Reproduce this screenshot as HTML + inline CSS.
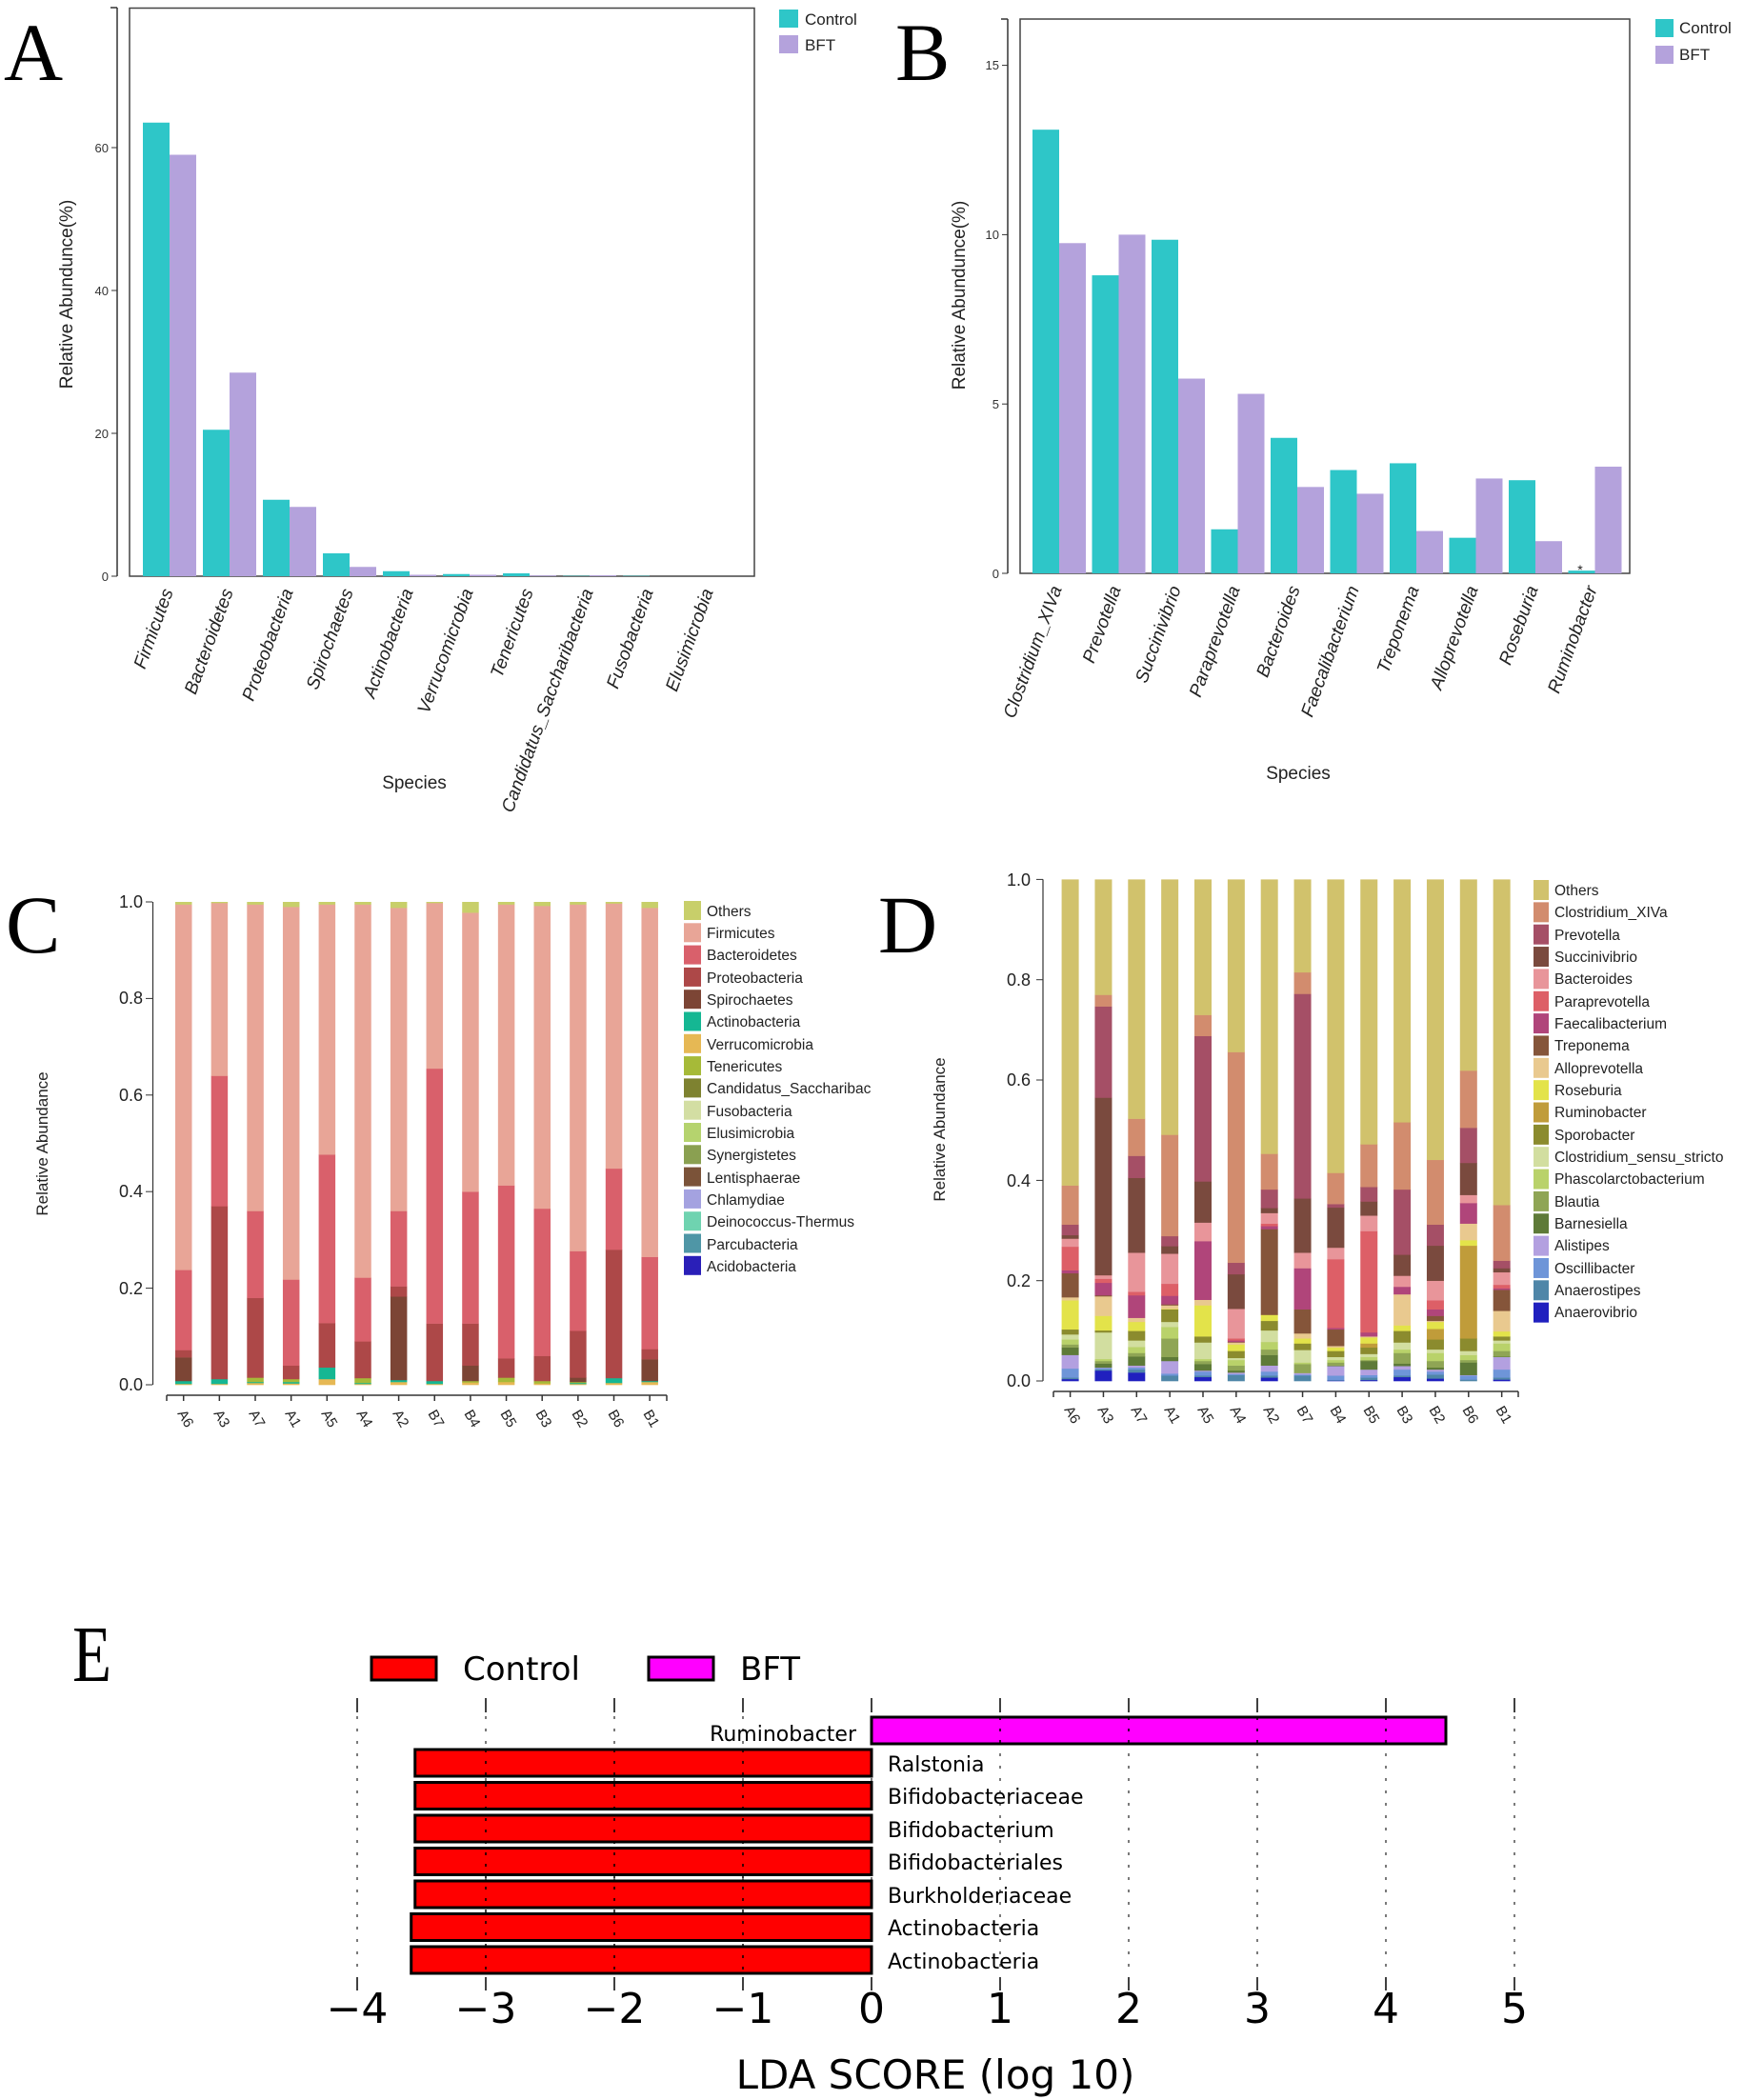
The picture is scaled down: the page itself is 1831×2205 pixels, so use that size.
<!DOCTYPE html>
<html><head><meta charset="utf-8">
<style>
html,body{margin:0;padding:0;background:#fff;}
svg{display:block;}
.s{font-family:"Liberation Sans",Arial,sans-serif;}
.serif{font-family:"Liberation Serif",serif;}
.dv{font-family:"DejaVu Sans","Liberation Sans",sans-serif;}
</style></head>
<body>
<svg id="svg" width="1831" height="2205" viewBox="0 0 1831 2205" xmlns="http://www.w3.org/2000/svg">
<rect width="1831" height="2205" fill="#fff"/>

<!-- ===== Panel A ===== -->
<text class="serif" x="4" y="84" font-size="86">A</text>
<line x1="123" y1="8" x2="123" y2="605" stroke="#333" stroke-width="1.5"/>
<line x1="116" y1="8" x2="123" y2="8" stroke="#333" stroke-width="1.5"/>
<rect x="136" y="8.5" width="656" height="596.5" fill="none" stroke="#444" stroke-width="1.5"/>
<g class="s" font-size="13" fill="#333" text-anchor="end">
<line x1="117" y1="605" x2="123" y2="605" stroke="#333"/><text x="114" y="610">0</text>
<line x1="117" y1="455" x2="123" y2="455" stroke="#333"/><text x="114" y="460">20</text>
<line x1="117" y1="305" x2="123" y2="305" stroke="#333"/><text x="114" y="310">40</text>
<line x1="117" y1="155" x2="123" y2="155" stroke="#333"/><text x="114" y="160">60</text>
</g>
<g id="barsA"></g>
<text class="s" font-size="19" fill="#222" transform="translate(76,309) rotate(-90)" text-anchor="middle">Relative Abundunce(%)</text>
<text class="s" font-size="19" fill="#222" x="435" y="828" text-anchor="middle">Species</text>
<g class="s" font-size="19" font-style="italic" fill="#222" text-anchor="end">
<text transform="translate(182,621) rotate(-70)">Firmicutes</text>
<text transform="translate(245,621) rotate(-70)">Bacteroidetes</text>
<text transform="translate(308,621) rotate(-70)">Proteobacteria</text>
<text transform="translate(371,621) rotate(-70)">Spirochaetes</text>
<text transform="translate(434,621) rotate(-70)">Actinobacteria</text>
<text transform="translate(497,621) rotate(-70)">Verrucomicrobia</text>
<text transform="translate(560,621) rotate(-70)">Tenericutes</text>
<text transform="translate(623,621) rotate(-70)">Candidatus_Saccharibacteria</text>
<text transform="translate(686,621) rotate(-70)">Fusobacteria</text>
<text transform="translate(749,621) rotate(-70)">Elusimicrobia</text>
</g>
<rect x="818" y="10" width="20" height="19" fill="#2ec6c8"/>
<rect x="818" y="37" width="20" height="19" fill="#b4a2dc"/>
<g class="s" font-size="17" fill="#222"><text x="845" y="26">Control</text><text x="845" y="53">BFT</text></g>

<!-- ===== Panel B ===== -->
<text class="serif" x="940" y="84" font-size="86">B</text>
<line x1="1058" y1="20" x2="1058" y2="602" stroke="#333" stroke-width="1.5"/>
<line x1="1051" y1="20" x2="1058" y2="20" stroke="#333" stroke-width="1.5"/>
<rect x="1071" y="20" width="640" height="582" fill="none" stroke="#444" stroke-width="1.5"/>
<g class="s" font-size="13" fill="#333" text-anchor="end">
<line x1="1052" y1="602" x2="1058" y2="602" stroke="#333"/><text x="1049" y="607">0</text>
<line x1="1052" y1="424.2" x2="1058" y2="424.2" stroke="#333"/><text x="1049" y="429">5</text>
<line x1="1052" y1="246.4" x2="1058" y2="246.4" stroke="#333"/><text x="1049" y="251">10</text>
<line x1="1052" y1="68.6" x2="1058" y2="68.6" stroke="#333"/><text x="1049" y="73">15</text>
</g>
<g id="barsB"></g>
<text class="s" font-size="14" fill="#222" x="1659" y="603" text-anchor="middle">*</text>
<text class="s" font-size="19" fill="#222" transform="translate(1013,310) rotate(-90)" text-anchor="middle">Relative Abundunce(%)</text>
<text class="s" font-size="19" fill="#222" x="1363" y="818" text-anchor="middle">Species</text>
<g class="s" font-size="19" font-style="italic" fill="#222" text-anchor="end">
<text transform="translate(1115,618) rotate(-70)">Clostridium_XIVa</text>
<text transform="translate(1177,618) rotate(-70)">Prevotella</text>
<text transform="translate(1240,618) rotate(-70)">Succinivibrio</text>
<text transform="translate(1302,618) rotate(-70)">Paraprevotella</text>
<text transform="translate(1365,618) rotate(-70)">Bacteroides</text>
<text transform="translate(1427,618) rotate(-70)">Faecalibacterium</text>
<text transform="translate(1490,618) rotate(-70)">Treponema</text>
<text transform="translate(1552,618) rotate(-70)">Alloprevotella</text>
<text transform="translate(1615,618) rotate(-70)">Roseburia</text>
<text transform="translate(1677,618) rotate(-70)">Ruminobacter</text>
</g>
<rect x="1738" y="20" width="19" height="19" fill="#2ec6c8"/>
<rect x="1738" y="48" width="19" height="19" fill="#b4a2dc"/>
<g class="s" font-size="17" fill="#222"><text x="1763" y="35">Control</text><text x="1763" y="63">BFT</text></g>

<!-- ===== Panel C ===== -->
<text class="serif" x="6" y="1000" font-size="86">C</text>
<line x1="160.5" y1="947" x2="160.5" y2="1454" stroke="#333" stroke-width="1.2"/>
<g class="s" font-size="18" fill="#222" text-anchor="end">
<line x1="153" y1="947" x2="160" y2="947" stroke="#333"/><text x="150" y="953">1.0</text>
<line x1="153" y1="1048.4" x2="160" y2="1048.4" stroke="#333"/><text x="150" y="1054">0.8</text>
<line x1="153" y1="1149.8" x2="160" y2="1149.8" stroke="#333"/><text x="150" y="1156">0.6</text>
<line x1="153" y1="1251.2" x2="160" y2="1251.2" stroke="#333"/><text x="150" y="1257">0.4</text>
<line x1="153" y1="1352.6" x2="160" y2="1352.6" stroke="#333"/><text x="150" y="1359">0.2</text>
<line x1="153" y1="1454" x2="160" y2="1454" stroke="#333"/><text x="150" y="1460">0.0</text>
</g>
<g id="barsC"></g>
<line x1="175" y1="1465" x2="700" y2="1465" stroke="#333" stroke-width="1.5"/>
<g id="ticksC"></g>
<text class="s" font-size="17" fill="#222" transform="translate(50,1201) rotate(-90)" text-anchor="middle">Relative Abundance</text>
<g class="s" font-size="15" fill="#222">
<text transform="translate(186,1484) rotate(60)">A6</text>
<text transform="translate(224,1484) rotate(60)">A3</text>
<text transform="translate(261,1484) rotate(60)">A7</text>
<text transform="translate(299,1484) rotate(60)">A1</text>
<text transform="translate(337,1484) rotate(60)">A5</text>
<text transform="translate(374,1484) rotate(60)">A4</text>
<text transform="translate(412,1484) rotate(60)">A2</text>
<text transform="translate(449,1484) rotate(60)">B7</text>
<text transform="translate(487,1484) rotate(60)">B4</text>
<text transform="translate(525,1484) rotate(60)">B5</text>
<text transform="translate(562,1484) rotate(60)">B3</text>
<text transform="translate(600,1484) rotate(60)">B2</text>
<text transform="translate(638,1484) rotate(60)">B6</text>
<text transform="translate(675,1484) rotate(60)">B1</text>
</g>
<g id="legC"></g>
<g class="s" font-size="15.5" fill="#222">
<text x="742" y="962">Others</text>
<text x="742" y="985">Firmicutes</text>
<text x="742" y="1008">Bacteroidetes</text>
<text x="742" y="1032">Proteobacteria</text>
<text x="742" y="1055">Spirochaetes</text>
<text x="742" y="1078">Actinobacteria</text>
<text x="742" y="1102">Verrucomicrobia</text>
<text x="742" y="1125">Tenericutes</text>
<text x="742" y="1148">Candidatus_Saccharibac</text>
<text x="742" y="1172">Fusobacteria</text>
<text x="742" y="1195">Elusimicrobia</text>
<text x="742" y="1218">Synergistetes</text>
<text x="742" y="1242">Lentisphaerae</text>
<text x="742" y="1265">Chlamydiae</text>
<text x="742" y="1288">Deinococcus-Thermus</text>
<text x="742" y="1312">Parcubacteria</text>
<text x="742" y="1335">Acidobacteria</text>
</g>

<!-- ===== Panel D ===== -->
<text class="serif" x="922" y="1000" font-size="86">D</text>
<line x1="1095" y1="923.4" x2="1095" y2="1450" stroke="#333" stroke-width="1.2"/>
<g class="s" font-size="18" fill="#222" text-anchor="end">
<line x1="1088" y1="923.4" x2="1095" y2="923.4" stroke="#333"/><text x="1082" y="930">1.0</text>
<line x1="1088" y1="1028.7" x2="1095" y2="1028.7" stroke="#333"/><text x="1082" y="1035">0.8</text>
<line x1="1088" y1="1134" x2="1095" y2="1134" stroke="#333"/><text x="1082" y="1140">0.6</text>
<line x1="1088" y1="1239.4" x2="1095" y2="1239.4" stroke="#333"/><text x="1082" y="1246">0.4</text>
<line x1="1088" y1="1344.7" x2="1095" y2="1344.7" stroke="#333"/><text x="1082" y="1351">0.2</text>
<line x1="1088" y1="1450" x2="1095" y2="1450" stroke="#333"/><text x="1082" y="1456">0.0</text>
</g>
<g id="barsD"></g>
<line x1="1106" y1="1461" x2="1594" y2="1461" stroke="#333" stroke-width="1.5"/>
<g id="ticksD"></g>
<text class="s" font-size="17" fill="#222" transform="translate(992,1186) rotate(-90)" text-anchor="middle">Relative Abundance</text>
<g class="s" font-size="15" fill="#222">
<text transform="translate(1117,1480) rotate(60)">A6</text>
<text transform="translate(1152,1480) rotate(60)">A3</text>
<text transform="translate(1187,1480) rotate(60)">A7</text>
<text transform="translate(1222,1480) rotate(60)">A1</text>
<text transform="translate(1257,1480) rotate(60)">A5</text>
<text transform="translate(1291,1480) rotate(60)">A4</text>
<text transform="translate(1326,1480) rotate(60)">A2</text>
<text transform="translate(1361,1480) rotate(60)">B7</text>
<text transform="translate(1396,1480) rotate(60)">B4</text>
<text transform="translate(1431,1480) rotate(60)">B5</text>
<text transform="translate(1466,1480) rotate(60)">B3</text>
<text transform="translate(1500,1480) rotate(60)">B2</text>
<text transform="translate(1535,1480) rotate(60)">B6</text>
<text transform="translate(1570,1480) rotate(60)">B1</text>
</g>
<g id="legD"></g>
<g class="s" font-size="15.5" fill="#222">
<text x="1632" y="940">Others</text>
<text x="1632" y="963">Clostridium_XIVa</text>
<text x="1632" y="987">Prevotella</text>
<text x="1632" y="1010">Succinivibrio</text>
<text x="1632" y="1033">Bacteroides</text>
<text x="1632" y="1057">Paraprevotella</text>
<text x="1632" y="1080">Faecalibacterium</text>
<text x="1632" y="1103">Treponema</text>
<text x="1632" y="1127">Alloprevotella</text>
<text x="1632" y="1150">Roseburia</text>
<text x="1632" y="1173">Ruminobacter</text>
<text x="1632" y="1197">Sporobacter</text>
<text x="1632" y="1220">Clostridium_sensu_stricto</text>
<text x="1632" y="1243">Phascolarctobacterium</text>
<text x="1632" y="1267">Blautia</text>
<text x="1632" y="1290">Barnesiella</text>
<text x="1632" y="1313">Alistipes</text>
<text x="1632" y="1337">Oscillibacter</text>
<text x="1632" y="1360">Anaerostipes</text>
<text x="1632" y="1383">Anaerovibrio</text>
</g>

<!-- ===== Panel E ===== -->
<text class="serif" x="76" y="1765" font-size="84" transform="translate(76,0) scale(0.8,1) translate(-76,0)">E</text>
<rect x="390" y="1740" width="68" height="24" fill="#ff0000" stroke="#000" stroke-width="3"/>
<rect x="681" y="1740" width="68" height="24" fill="#ff00ff" stroke="#000" stroke-width="3"/>
<g class="dv" font-size="34" fill="#000"><text x="486" y="1764">Control</text><text x="777" y="1764">BFT</text></g>
<g id="gridE"></g>
<g id="barsE"></g>
<g class="dv" font-size="22" fill="#000">
<text x="899" y="1828" text-anchor="end" font-size="22">Ruminobacter</text>
<text x="932" y="1860">Ralstonia</text>
<text x="932" y="1894">Bifidobacteriaceae</text>
<text x="932" y="1929">Bifidobacterium</text>
<text x="932" y="1963">Bifidobacteriales</text>
<text x="932" y="1998">Burkholderiaceae</text>
<text x="932" y="2032">Actinobacteria</text>
<text x="932" y="2067">Actinobacteria</text>
</g>
<g class="dv" font-size="44" fill="#000" text-anchor="middle">
<text x="375" y="2124">−4</text><text x="510" y="2124">−3</text><text x="645" y="2124">−2</text><text x="780" y="2124">−1</text>
<text x="915" y="2124">0</text><text x="1050" y="2124">1</text><text x="1185" y="2124">2</text><text x="1320" y="2124">3</text><text x="1455" y="2124">4</text><text x="1590" y="2124">5</text>
</g>
<text class="dv" font-size="42" x="982" y="2193" text-anchor="middle">LDA SCORE (log 10)</text>
</svg>
<script>
(function(){
var NS="http://www.w3.org/2000/svg";
function R(g,x,y,w,h,f,extra){var r=document.createElementNS(NS,"rect");r.setAttribute("x",x);r.setAttribute("y",y);r.setAttribute("width",w);r.setAttribute("height",Math.max(h,0));r.setAttribute("fill",f);if(extra)for(var k in extra)r.setAttribute(k,extra[k]);g.appendChild(r);}
function L(g,x1,y1,x2,y2,s,w,d){var l=document.createElementNS(NS,"line");l.setAttribute("x1",x1);l.setAttribute("y1",y1);l.setAttribute("x2",x2);l.setAttribute("y2",y2);l.setAttribute("stroke",s);l.setAttribute("stroke-width",w);if(d)l.setAttribute("stroke-dasharray",d);g.appendChild(l);}
var TEAL="#2ec6c8",LAV="#b4a2dc";
var gA=document.getElementById("barsA");
var aC=[63.5,20.5,10.7,3.2,0.7,0.3,0.4,0.05,0.05,0],aB=[59,28.5,9.7,1.3,0.2,0.2,0.1,0.12,0,0];
for(var i=0;i<10;i++){var x=150+63*i;R(gA,x,605-aC[i]*7.5,28,aC[i]*7.5,TEAL);R(gA,x+28,605-aB[i]*7.5,28,aB[i]*7.5,LAV);}
var gB=document.getElementById("barsB");
var bC=[13.1,8.8,9.85,1.3,4.0,3.05,3.25,1.05,2.75,0.08],bB=[9.75,10.0,5.75,5.3,2.55,2.35,1.25,2.8,0.95,3.15];
for(var i=0;i<10;i++){var x=1084+62.5*i,k=35.56;R(gB,x,602-bC[i]*k,28,bC[i]*k,TEAL);R(gB,x+28,602-bB[i]*k,28,bB[i]*k,LAV);}
var cData=[
[0,0.002,0.008,0.008,0.008,0.057,0.072,0.238,0.995],
[0,0.002,0.012,0.012,0.012,0.012,0.37,0.64,0.998],
[0,0.004,0.006,0.006,0.015,0.015,0.18,0.36,0.995],
[0,0.003,0.006,0.006,0.012,0.012,0.04,0.218,0.99],
[0,0.012,0.036,0.036,0.036,0.036,0.128,0.477,0.995],
[0,0.002,0.004,0.004,0.014,0.014,0.09,0.222,0.995],
[0,0.006,0.01,0.01,0.01,0.183,0.204,0.36,0.988],
[0,0.002,0.008,0.008,0.008,0.008,0.127,0.655,0.998],
[0,0.005,0.005,0.005,0.008,0.04,0.127,0.4,0.978],
[0,0.006,0.006,0.006,0.015,0.015,0.055,0.413,0.995],
[0,0.003,0.003,0.003,0.008,0.008,0.06,0.365,0.992],
[0,0.002,0.004,0.004,0.006,0.015,0.112,0.277,0.995],
[0,0.004,0.014,0.014,0.014,0.014,0.28,0.448,0.997],
[0,0.006,0.008,0.008,0.008,0.053,0.074,0.265,0.988]];
var cSegCol=["#e6b854","#15b793","#a6ba38","#a6ba38","#7c4535","#ad4848","#d9606b","#e8a597","#c8cf6a"];
var gC=document.getElementById("barsC");var HC=507,Y0=1454;
for(var b=0;b<14;b++){var x=184+37.65*b,pv=0,t=cData[b].concat([1]);
 for(var j=1;j<t.length;j++){var tp=t[j];if(tp>pv)R(gC,x,Y0-tp*HC,17.5,(tp-pv)*HC+0.3,cSegCol[j-1]);pv=Math.max(pv,tp);}}
var tC=document.getElementById("ticksC");
L(tC,175,1465,175,1471,"#333",1.5);L(tC,700,1465,700,1471,"#333",1.5);
for(var b=0;b<14;b++)L(tC,192.7+37.65*b,1465,192.7+37.65*b,1471,"#333",1.5);
var lC=["#c8cf6a","#e8a597","#d9606b","#ad4848","#7c4535","#15b793","#e6b854","#a6ba38","#7e8230","#d3dea3","#b5d36e","#8aa051","#7b5339","#a4a2e0","#6fd3b0","#4f96a6","#2a1fb8"];
var gl=document.getElementById("legC");for(var i=0;i<lC.length;i++)R(gl,718,946+23.3*i,18,20,lC[i]);
var dCol=["#2020bf","#4f86a8","#6e95d8","#b3a0e0","#5e7a38","#8fa555","#b9d26a","#d2dea0","#8b8b2e","#c09c3a","#e3e34a","#e9c98f","#85553a","#b0457a","#dd5f67","#e8959a","#7a4a3e","#a54f66","#d28c6e","#d1c26c"];
var dData=[
[.004,.007,.025,.052,.067,.073,.083,.093,.103,.103,.161,.167,.215,.221,.268,.284,.291,.312,.39],
[.021,.023,.026,.027,.035,.04,.044,.097,.101,.101,.130,.169,.171,.196,.204,.211,.565,.747,.77],
[.017,.023,.027,.031,.049,.056,.068,.081,.1,.1,.118,.126,.126,.171,.178,.256,.405,.449,.523],
[0,.011,.015,.04,.048,.085,.108,.118,.143,.143,.144,.151,.153,.17,.194,.254,.269,.289,.491],
[.008,.011,.019,.021,.034,.04,.044,.077,.089,.089,.151,.162,.162,.279,.279,.316,.398,.688,.73],
[0,.012,.014,.017,.021,.031,.042,.046,.06,.06,.073,.077,.078,.081,.085,.144,.213,.236,.656],
[.007,.011,.019,.031,.052,.063,.078,.101,.12,.12,.132,.132,.303,.309,.314,.335,.345,.382,.453],
[0,.011,.013,.016,.016,.034,.037,.062,.075,.075,.085,.095,.143,.225,.225,.256,.364,.772,.815],
[.001,.002,.011,.03,.031,.037,.042,.048,.06,.06,.067,.07,.103,.106,.243,.266,.346,.353,.415],
[.002,.007,.012,.023,.04,.042,.048,.054,.067,.075,.087,.089,.089,.097,.299,.33,.358,.387,.472],
[.008,.011,.023,.03,.035,.056,.063,.077,.1,.1,.111,.173,.173,.188,.188,.21,.252,.382,.516],
[.005,.013,.019,.023,.027,.04,.056,.063,.083,.104,.118,.12,.13,.143,.161,.2,.27,.312,.441],
[0,.003,.011,.012,.037,.042,.052,.06,.085,.27,.281,.314,.314,.355,.355,.371,.435,.505,.619],
[.003,.007,.023,.048,.049,.06,.075,.081,.089,.089,.099,.14,.182,.185,.192,.217,.225,.24,.351]];
var gD=document.getElementById("barsD");var HD=526.6,YD=1450;
for(var b=0;b<14;b++){var x=1114.6+34.85*b,pv=0,t=dData[b].concat([1]);
 for(var j=0;j<t.length;j++){var tp=t[j];if(tp>pv)R(gD,x,YD-tp*HD,18,(tp-pv)*HD+0.3,dCol[j]);pv=Math.max(pv,tp);}}
var tD=document.getElementById("ticksD");
L(tD,1106,1461,1106,1467,"#333",1.5);L(tD,1594,1461,1594,1467,"#333",1.5);
for(var b=0;b<14;b++)L(tD,1123.6+34.85*b,1461,1123.6+34.85*b,1467,"#333",1.5);
var lD=dCol.slice().reverse();var gd=document.getElementById("legD");
for(var i=0;i<lD.length;i++)R(gd,1610,924+23.35*i,16,21,lD[i]);
var gE=document.getElementById("gridE");
for(var v=-4;v<=5;v++){var x=915+135*v;L(gE,x,1783,x,1798,"#000",1.5);L(gE,x,1802,x,2074,"#333",1.3,"3,10");L(gE,x,2076,x,2090,"#000",1.5);}
var bE=document.getElementById("barsE");
R(bE,915,1803,603,28,"#ff00ff",{stroke:"#000","stroke-width":3});
var ends=[-3.55,-3.55,-3.55,-3.55,-3.55,-3.58,-3.58];
for(var i=0;i<7;i++){var x0=915+135*ends[i];R(bE,x0,1837+34.5*i,915-x0,28,"#ff0000",{stroke:"#000","stroke-width":3});}
var g2=document.createElementNS(NS,"g");document.getElementById("svg").appendChild(g2);
for(var v=-3;v<=-1;v++){var x=915+135*v;L(g2,x,1837,x,2072,"#000",1.5,"3,9");}
for(var v=1;v<=4;v++){var x=915+135*v;L(g2,x,1803,x,1831,"#000",1.5,"3,9");}
})();
</script>
</body></html>
